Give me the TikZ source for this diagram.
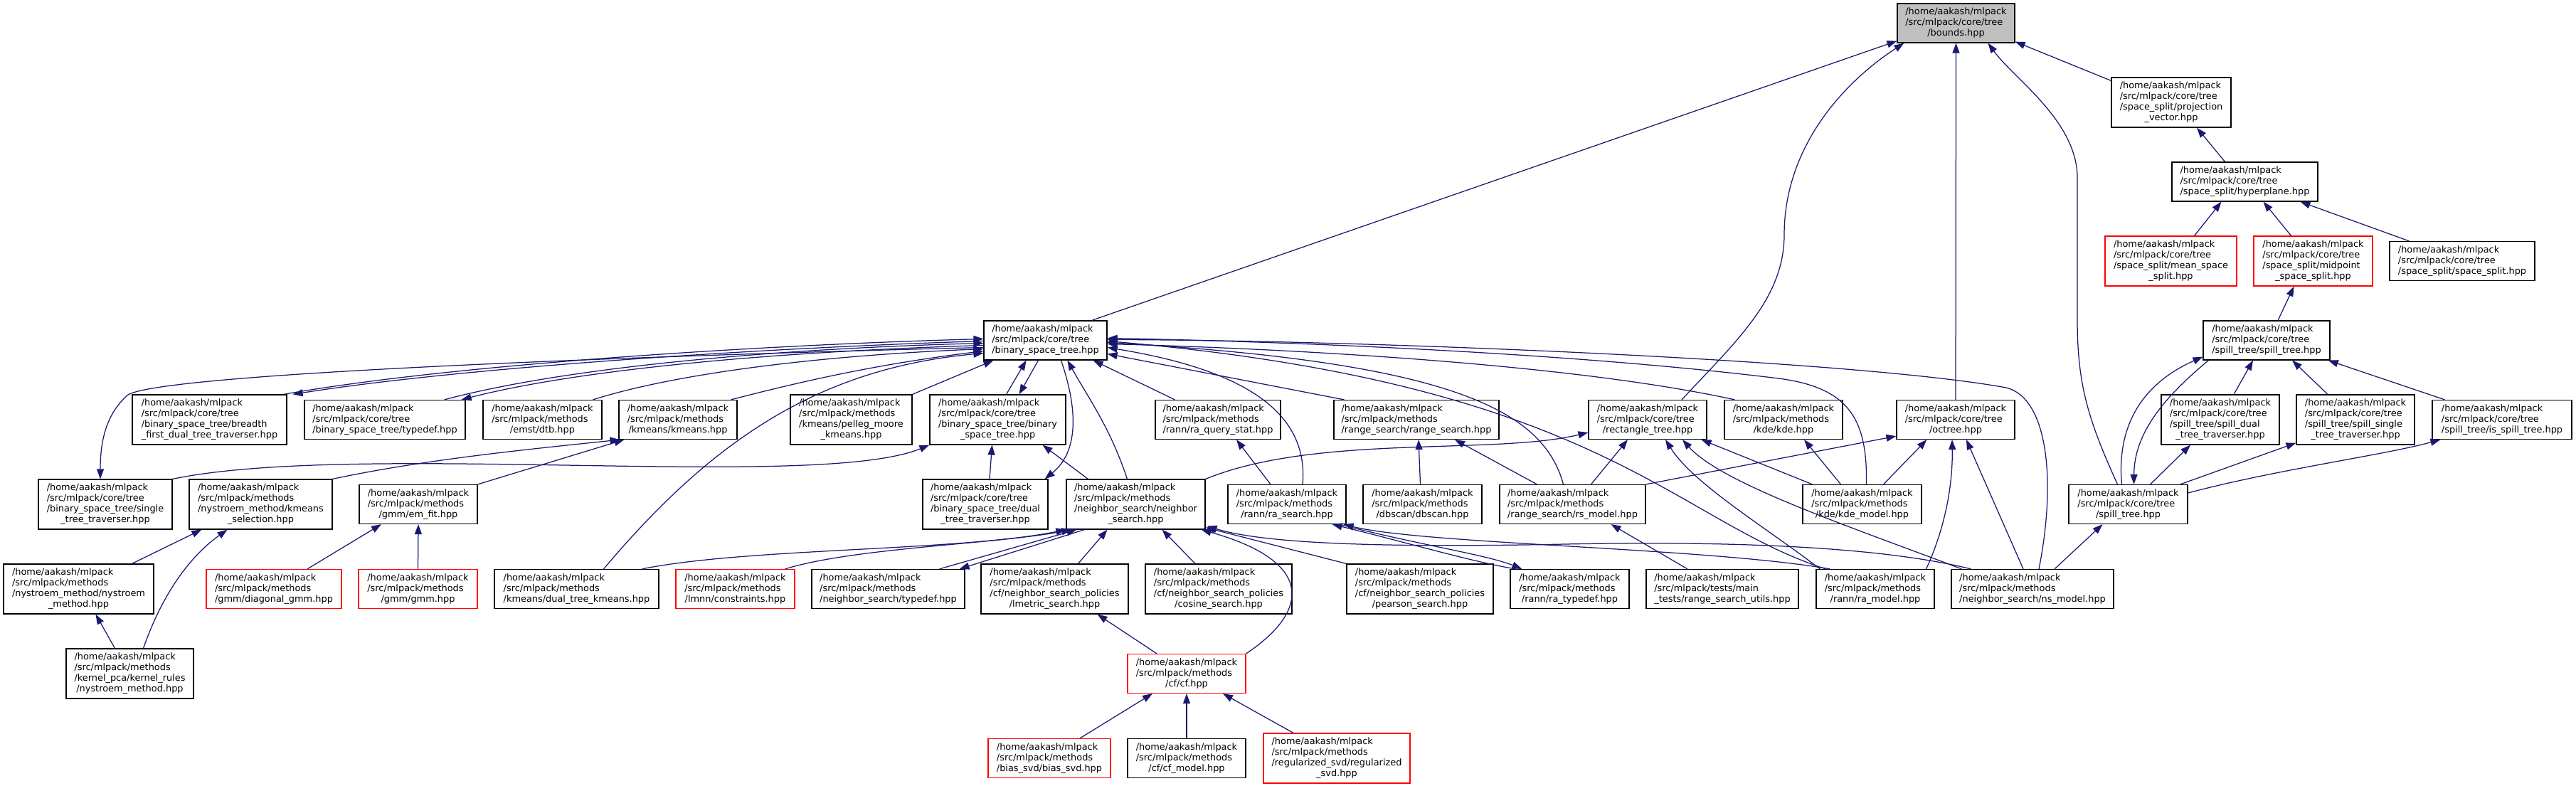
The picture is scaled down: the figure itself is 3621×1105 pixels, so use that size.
\documentclass[tikz,border=0pt]{standalone}
\usepackage{fontspec}
\setmainfont{DejaVu Sans}
\usetikzlibrary{arrows.meta,calc}
\definecolor{edgec}{HTML}{191970}
\definecolor{redc}{HTML}{FF0000}
\definecolor{grayc}{HTML}{BFBFBF}
\newcommand{\nfont}{\fontsize{12.9pt}{15pt}\selectfont}
\newcommand{\lbl}[2]{\begin{tabular}{@{}l@{}}#1\\\multicolumn{1}{@{}c@{}}{#2}\end{tabular}}
\newcommand{\pHome}{/home/aakash/mlpack}
\newcommand{\pTree}{/src/mlpack/core/tree}
\newcommand{\pMeth}{/src/mlpack/methods}
\begin{document}
\begin{tikzpicture}[x=1pt,y=-1pt,
  box/.style={draw=black,line width=1.2pt,fill=white,inner sep=0pt,font=\nfont,minimum height=55pt},
  four/.style={minimum height=70pt},
  bw/.style={minimum width=#1pt},
  redb/.style={draw=redc},
  grayb/.style={fill=grayc},
  conn/.style={draw=edgec,line width=1.25pt,-{Triangle[length=14pt,width=10pt]}}]
\useasboundingbox (0,0) rectangle (3621,1105);
% row 0
\node[box,grayb,bw=165] (bounds) at (2749.5,32.5) {\lbl{\pHome\\\pTree}{/bounds.hpp}};
% row 1
\node[box,four,bw=168] (proj) at (3052,144) {\lbl{\pHome\\\pTree\\/space\_split/projection}{\_vector.hpp}};
% row 2
\node[box,bw=205] (hyper) at (3155.5,255.5) {\lbl{\pHome\\\pTree}{/space\_split/hyperplane.hpp}};
% row 3
\node[box,four,redb,bw=185] (mean) at (3051.5,367) {\lbl{\pHome\\\pTree\\/space\_split/mean\_space}{\_split.hpp}};
\node[box,four,redb,bw=167] (midpoint) at (3251.5,367) {\lbl{\pHome\\\pTree\\/space\_split/midpoint}{\_space\_split.hpp}};
\node[box,bw=204] (spsplit) at (3461,367) {\lbl{\pHome\\\pTree}{/space\_split/space\_split.hpp}};
% row 4
\node[box,bw=178] (spilltree) at (3186,478.5) {\lbl{\pHome\\\pTree}{/spill\_tree/spill\_tree.hpp}};
\node[box,bw=173] (bst) at (1469.5,478.5) {\lbl{\pHome\\\pTree}{/binary\_space\_tree.hpp}};
% row 5
\node[box,four,bw=217] (breadth) at (294.5,590) {\lbl{\pHome\\\pTree\\/binary\_space\_tree/breadth}{\_first\_dual\_tree\_traverser.hpp}};
\node[box,bw=226] (bsttypedef) at (541,590) {\lbl{\pHome\\\pTree}{/binary\_space\_tree/typedef.hpp}};
\node[box,bw=167] (emst) at (762.5,590) {\lbl{\pHome\\\pMeth}{/emst/dtb.hpp}};
\node[box,bw=166] (kmeans) at (953,590) {\lbl{\pHome\\\pMeth}{/kmeans/kmeans.hpp}};
\node[box,four,bw=171] (pelleg) at (1196.5,590) {\lbl{\pHome\\\pMeth\\/kmeans/pelleg\_moore}{\_kmeans.hpp}};
\node[box,four,bw=191] (bstbst) at (1402.5,590) {\lbl{\pHome\\\pTree\\/binary\_space\_tree/binary}{\_space\_tree.hpp}};
\node[box,bw=176] (raqs) at (1712,590) {\lbl{\pHome\\\pMeth}{/rann/ra\_query\_stat.hpp}};
\node[box,bw=232] (rsearch) at (1991,590) {\lbl{\pHome\\\pMeth}{/range\_search/range\_search.hpp}};
\node[box,bw=166] (rect) at (2316,590) {\lbl{\pHome\\\pTree}{/rectangle\_tree.hpp}};
\node[box,bw=166] (kde) at (2507,590) {\lbl{\pHome\\\pMeth}{/kde/kde.hpp}};
\node[box,bw=166] (octree) at (2749,590) {\lbl{\pHome\\\pTree}{/octree.hpp}};
\node[box,four,bw=166] (spdual) at (3121,590) {\lbl{\pHome\\\pTree\\/spill\_tree/spill\_dual}{\_tree\_traverser.hpp}};
\node[box,four,bw=166] (spsingle) at (3311,590) {\lbl{\pHome\\\pTree\\/spill\_tree/spill\_single}{\_tree\_traverser.hpp}};
\node[box,bw=196] (isspill) at (3517,590) {\lbl{\pHome\\\pTree}{/spill\_tree/is\_spill\_tree.hpp}};
% row 6
\node[box,four,bw=188] (single) at (148,709) {\lbl{\pHome\\\pTree\\/binary\_space\_tree/single}{\_tree\_traverser.hpp}};
\node[box,four,bw=201] (kmsel) at (366.5,709) {\lbl{\pHome\\\pMeth\\/nystroem\_method/kmeans}{\_selection.hpp}};
\node[box,bw=166] (emfit) at (588,709) {\lbl{\pHome\\\pMeth}{/gmm/em\_fit.hpp}};
\node[box,four,bw=176] (dtt) at (1385,709) {\lbl{\pHome\\\pTree\\/binary\_space\_tree/dual}{\_tree\_traverser.hpp}};
\node[box,four,bw=195] (ns) at (1596.5,709) {\lbl{\pHome\\\pMeth\\/neighbor\_search/neighbor}{\_search.hpp}};
\node[box,bw=166] (rasearch) at (1809,709) {\lbl{\pHome\\\pMeth}{/rann/ra\_search.hpp}};
\node[box,bw=167] (dbscan) at (1999.5,709) {\lbl{\pHome\\\pMeth}{/dbscan/dbscan.hpp}};
\node[box,bw=205] (rsmodel) at (2210.5,709) {\lbl{\pHome\\\pMeth}{/range\_search/rs\_model.hpp}};
\node[box,bw=167] (kdemodel) at (2617.5,709) {\lbl{\pHome\\\pMeth}{/kde/kde\_model.hpp}};
\node[box,bw=167] (spilltreehpp) at (2991.5,709) {\lbl{\pHome\\\pTree}{/spill\_tree.hpp}};
% row 7
\node[box,four,bw=211] (nysnys) at (110.5,828) {\lbl{\pHome\\\pMeth\\/nystroem\_method/nystroem}{\_method.hpp}};
\node[box,redb,bw=190] (diag) at (385,828) {\lbl{\pHome\\\pMeth}{/gmm/diagonal\_gmm.hpp}};
\node[box,redb,bw=167] (gmm) at (587.5,828) {\lbl{\pHome\\\pMeth}{/gmm/gmm.hpp}};
\node[box,bw=231] (dtkm) at (810.5,828) {\lbl{\pHome\\\pMeth}{/kmeans/dual\_tree\_kmeans.hpp}};
\node[box,redb,bw=167] (constraints) at (1033.5,828) {\lbl{\pHome\\\pMeth}{/lmnn/constraints.hpp}};
\node[box,bw=215] (nstypedef) at (1248.5,828) {\lbl{\pHome\\\pMeth}{/neighbor\_search/typedef.hpp}};
\node[box,four,bw=207] (metric) at (1482.5,828) {\lbl{\pHome\\\pMeth\\/cf/neighbor\_search\_policies}{/lmetric\_search.hpp}};
\node[box,four,bw=206] (cosine) at (1713,828) {\lbl{\pHome\\\pMeth\\/cf/neighbor\_search\_policies}{/cosine\_search.hpp}};
\node[box,four,bw=206] (pearson) at (1996,828) {\lbl{\pHome\\\pMeth\\/cf/neighbor\_search\_policies}{/pearson\_search.hpp}};
\node[box,bw=167] (ratypedef) at (2206.5,828) {\lbl{\pHome\\\pMeth}{/rann/ra\_typedef.hpp}};
\node[box,bw=214] (rsutils) at (2421,828) {\lbl{\pHome\\/src/mlpack/tests/main}{\_tests/range\_search\_utils.hpp}};
\node[box,bw=166] (ramodel) at (2636,828) {\lbl{\pHome\\\pMeth}{/rann/ra\_model.hpp}};
\node[box,bw=228] (nsmodel) at (2857,828) {\lbl{\pHome\\\pMeth}{/neighbor\_search/ns\_model.hpp}};
% row 8
\node[box,four,bw=179] (kernel) at (182.5,947) {\lbl{\pHome\\\pMeth\\/kernel\_pca/kernel\_rules}{/nystroem\_method.hpp}};
\node[box,redb,bw=166] (cf) at (1668,947) {\lbl{\pHome\\\pMeth}{/cf/cf.hpp}};
% row 9
\node[box,redb,bw=172] (bias) at (1475,1066) {\lbl{\pHome\\\pMeth}{/bias\_svd/bias\_svd.hpp}};
\node[box,bw=166] (cfmodel) at (1668,1066) {\lbl{\pHome\\\pMeth}{/cf/cf\_model.hpp}};
\node[box,four,redb,bw=206] (regsvd) at (1879,1066) {\lbl{\pHome\\\pMeth\\/regularized\_svd/regularized}{\_svd.hpp}};

% ---- edges into bounds
\draw[conn] ($(bst.north east)+(-22,0)$) -- ($(bounds.south west)+(0,-3)$);
\draw[conn] ($(rect.north)+(48,0)$) .. controls (2440,480) and (2508,420) .. (2508,330) .. controls (2508,200) and (2600,110) .. ($(bounds.south west)+(10,0)$);
\draw[conn] (octree.north) -- (bounds.south);
\draw[conn] ($(spilltreehpp.north)+(-15,0)$) .. controls (2935,590) and (2920,540) .. (2920,450) -- (2920,250) .. controls (2920,170) and (2830,110) .. ($(bounds.south east)+(-38,0)$);
\draw[conn] ($(proj.north west)+(0,5)$) -- ($(bounds.south east)+(0,-2)$);
% ---- space split column
\draw[conn] ($(hyper.north)+(-28,0)$) -- ($(proj.south)+(36,0)$);
\draw[conn] ($(mean.north)+(33,0)$) -- ($(hyper.south)+(-33,0)$);
\draw[conn] ($(midpoint.north)+(-31,0)$) -- ($(hyper.south)+(26,0)$);
\draw[conn] ($(spsplit.north west)+(28,0)$) -- ($(hyper.south)+(78,0)$);
\draw[conn] ($(spilltree.north)+(16,0)$) -- ($(midpoint.south)+(-27,0)$);
\draw[conn] ($(spilltreehpp.north)+(-9,0)$) .. controls (2975,600) and (3010,540) .. ($(spilltree.south west)+(0,-5)$);
\draw[conn] ($(spilltree.south west)+(8,0)$) .. controls (3040,560) and (3000,610) .. ($(spilltreehpp.north)+(8,0)$);
\draw[conn] ($(spdual.north)+(19,0)$) -- ($(spilltree.south)+(-19,0)$);
\draw[conn] ($(spsingle.north)+(-39,0)$) -- ($(spilltree.south)+(36,0)$);
\draw[conn] ($(isspill.north west)+(18,0)$) -- ($(spilltree.south east)+(-3,0)$);
\draw[conn] ($(spilltreehpp.north east)+(-53,0)$) -- ($(spdual.south)+(-42,0)$);
\draw[conn] ($(spilltreehpp.north east)+(-11,0)$) -- ($(spsingle.south west)+(0,-3)$);
\draw[conn] ($(spilltreehpp.east)+(0,-16)$) .. controls (3200,660) and (3350,640) .. ($(isspill.south west)+(12,0)$);
\draw[conn] ($(nsmodel.north)+(31,0)$) -- ($(spilltreehpp.south)+(-36,0)$);
% ---- edges into / out of binary_space_tree.hpp (left side)
\draw[conn] ($(breadth.north east)+(-5,0)$) .. controls (650,510) and (1100,484) .. ($(bst.west)+(0,-2)$);
\draw[conn] ($(bst.west)+(0,1)$) .. controls (1100,488) and (660,515) .. ($(breadth.north east)+(8,0)$);
\draw[conn] ($(bsttypedef.north east)+(-30,0)$) .. controls (800,515) and (1100,490) .. ($(bst.west)+(0,4)$);
\draw[conn] ($(bst.west)+(0,7)$) .. controls (1100,494) and (820,518) .. ($(bsttypedef.north east)+(-6,0)$);
\draw[conn] ($(bst.west)+(0,10)$) .. controls (900,500) and (230,525) .. (180,555) .. controls (145,585) and (141,630) .. ($(single.north)+(-7,0)$);
\draw[conn] ($(emst.north east)+(-13,0)$) .. controls (950,525) and (1150,500) .. ($(bst.west)+(0,12)$);
\draw[conn] ($(kmeans.north east)+(-9,0)$) .. controls (1150,530) and (1250,510) .. ($(bst.west)+(0,15)$);
\draw[conn] ($(dtkm.north)+(38,0)$) .. controls (1000,620) and (1150,518) .. ($(bst.west)+(0,18)$);
\draw[conn] (pelleg.north east) -- ($(bst.south west)+(14,0)$);
\draw[conn] ($(bstbst.north)+(12,0)$) -- ($(bst.south)+(-27,0)$);
\draw[conn] ($(bst.south)+(-10,0)$) -- ($(bstbst.north)+(30,0)$);
\draw[conn] ($(bst.south)+(22,0)$) .. controls (1520,590) and (1510,640) .. ($(dtt.north east)+(-5,0)$);
\draw[conn] ($(ns.north)+(-12,0)$) .. controls (1560,600) and (1530,560) .. ($(bst.south)+(31,0)$);
\draw[conn] ($(raqs.north west)+(28,0)$) -- ($(bst.south east)+(-20,0)$);
% right side
\draw[conn] ($(rsearch.north west)+(15,0)$) -- ($(bst.east)+(0,19)$);
\draw[conn] ($(rasearch.north)+(22,0)$) .. controls (1840,580) and (1750,520) .. ($(bst.east)+(0,10)$);
\draw[conn] ($(kde.north west)+(15,0)$) .. controls (2200,510) and (1800,490) .. ($(bst.east)+(0,5)$);
\draw[conn] ($(rsmodel.north)+(-13,0)$) .. controls (2170,580) and (2050,510) .. ($(bst.east)+(0,3)$);
\draw[conn] ($(ramodel.north west)+(14,0)$) .. controls (2350,730) and (2250,540) .. ($(bst.east)+(0,1)$);
\draw[conn] ($(nsmodel.north)+(9,0)$) .. controls (2890,680) and (2880,560) .. (2820,545) .. controls (2600,505) and (1900,478) .. ($(bst.east)+(0,-1)$);
\draw[conn] ($(kdemodel.north)+(6,0)$) .. controls (2625,590) and (2600,545) .. (2500,532) .. controls (2200,495) and (1800,480) .. ($(bst.east)+(0,-3)$);
% ---- binary_space_tree/binary_space_tree.hpp
\draw[conn] (single.north east) .. controls (500,620) and (1150,690) .. (bstbst.south west);
\draw[conn] ($(dtt.north)+(6,0)$) -- ($(bstbst.south)+(-8,0)$);
\draw[conn] ($(ns.north west)+(31,0)$) -- ($(bstbst.south)+(63,0)$);
% ---- kmeans / gmm / nystroem
\draw[conn] (kmsel.north east) .. controls (600,645) and (760,630) .. ($(kmeans.south west)+(2,0)$);
\draw[conn] (emfit.north east) -- ($(kmeans.south west)+(8,0)$);
\draw[conn] ($(nysnys.north)+(75,0)$) -- ($(kmsel.south west)+(18,0)$);
\draw[conn] ($(kernel.north)+(-21,0)$) -- ($(nysnys.south)+(24,0)$);
\draw[conn] ($(kernel.north)+(19,0)$) .. controls (230,830) and (270,780) .. ($(kmsel.south)+(-47,0)$);
\draw[conn] ($(diag.north)+(47,0)$) -- ($(emfit.south)+(-52,0)$);
\draw[conn] (gmm.north) -- (emfit.south);
% ---- neighbor_search.hpp
\draw[conn] ($(dtkm.north)+(92,0)$) .. controls (1050,770) and (1350,775) .. (ns.south west);
\draw[conn] ($(constraints.north)+(70,0)$) .. controls (1200,770) and (1400,765) .. ($(ns.south west)+(8,0)$);
\draw[conn] ($(nstypedef.north)+(72,0)$) -- ($(ns.south west)+(15,0)$);
\draw[conn] ($(ns.south west)+(26,0)$) -- ($(nstypedef.north east)+(-8,0)$);
\draw[conn] ($(metric.north)+(33,0)$) -- ($(ns.south)+(-40,0)$);
\draw[conn] ($(cosine.north)+(-33,0)$) -- ($(ns.south)+(37,0)$);
\draw[conn] (pearson.north west) -- ($(ns.south east)+(0,-3)$);
\draw[conn] (cf.north east) .. controls (1840,860) and (1850,790) .. ($(ns.south east)+(-6,0)$);
\draw[conn] ($(nsmodel.north west)+(28,0)$) .. controls (2650,770) and (2450,760) .. (2200,765) .. controls (1950,770) and (1780,765) .. ($(ns.south east)+(2,-5)$);
% ---- cf
\draw[conn] ($(cf.north)+(-42,0)$) -- ($(metric.south)+(60,0)$);
\draw[conn] ($(bias.north)+(43,0)$) -- ($(cf.south)+(-48,0)$);
\draw[conn] (cfmodel.north) -- (cf.south);
\draw[conn] ($(regsvd.north)+(-61,0)$) -- ($(cf.south)+(51,0)$);
% ---- rann
\draw[conn] ($(rasearch.north)+(-23,0)$) -- ($(raqs.south)+(26,0)$);
\draw[conn] ($(rasearch.south east)+(-10,0)$) .. controls (1990,765) and (2090,780) .. ($(ratypedef.north west)+(17,0)$);
\draw[conn] ($(ratypedef.north west)+(8,0)$) .. controls (2070,790) and (1975,762) .. ($(rasearch.south east)+(-20,0)$);
\draw[conn] ($(ramodel.north west)+(20,0)$) .. controls (2400,770) and (2000,765) .. ($(rasearch.south east)+(-4,0)$);
% ---- rectangle tree, octree, kde, range search
\draw[conn] (ns.north east) .. controls (1850,610) and (2100,640) .. ($(rect.west)+(0,18)$);
\draw[conn] ($(rsmodel.north)+(26,0)$) -- ($(rect.south)+(-28,0)$);
\draw[conn] ($(ramodel.north west)+(6,0)$) .. controls (2480,740) and (2380,680) .. ($(rect.south)+(25,0)$);
\draw[conn] ($(nsmodel.north west)+(15,0)$) .. controls (2600,740) and (2420,680) .. ($(rect.south)+(49,0)$);
\draw[conn] ($(kdemodel.north west)+(14,0)$) -- ($(rect.south east)+(-8,0)$);
\draw[conn] (rsmodel.north east) -- ($(octree.south west)+(0,-5)$);
\draw[conn] ($(kdemodel.north)+(30,0)$) -- ($(octree.south west)+(43,0)$);
\draw[conn] ($(ramodel.north east)+(-12,0)$) .. controls (2735,740) and (2745,680) .. ($(octree.south)+(-5,0)$);
\draw[conn] ($(nsmodel.north)+(-13,0)$) -- ($(octree.south)+(15,0)$);
\draw[conn] ($(kdemodel.north)+(-30,0)$) -- ($(kde.south)+(29,0)$);
\draw[conn] ($(dbscan.north)+(-3,0)$) -- ($(rsearch.south)+(3,0)$);
\draw[conn] ($(rsmodel.north west)+(53,0)$) -- ($(rsearch.south)+(54,0)$);
\draw[conn] ($(rsutils.north)+(-49,0)$) -- ($(rsmodel.south)+(54,0)$);
\end{tikzpicture}
\end{document}
